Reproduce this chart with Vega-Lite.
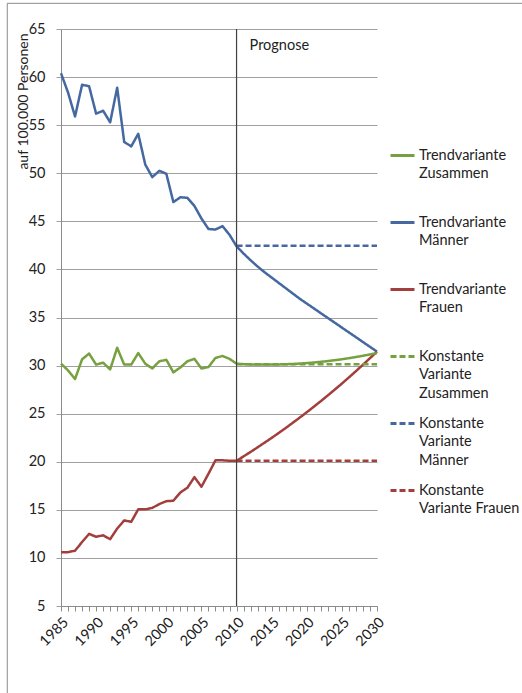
{
  "$schema": "https://vega.github.io/schema/vega-lite/v6.json",
  "width": 316,
  "height": 577,
  "autosize": {"type": "none"},
  "padding": {"left": 61, "top": 29, "right": 145, "bottom": 87},
  "background": "white",
  "config": {
    "font": "Lato",
    "view": {"stroke": null},
    "style": {"guide-label": {"lineHeight": 18.5}}
  },
  "data": {
    "values": [
      {"year": 1985, "series": "Trendvariante Männer", "value": 60.4},
      {"year": 1986, "series": "Trendvariante Männer", "value": 58.4},
      {"year": 1987, "series": "Trendvariante Männer", "value": 55.9},
      {"year": 1988, "series": "Trendvariante Männer", "value": 59.2},
      {"year": 1989, "series": "Trendvariante Männer", "value": 59.05},
      {"year": 1990, "series": "Trendvariante Männer", "value": 56.2},
      {"year": 1991, "series": "Trendvariante Männer", "value": 56.5},
      {"year": 1992, "series": "Trendvariante Männer", "value": 55.3},
      {"year": 1993, "series": "Trendvariante Männer", "value": 58.9},
      {"year": 1994, "series": "Trendvariante Männer", "value": 53.25},
      {"year": 1995, "series": "Trendvariante Männer", "value": 52.8},
      {"year": 1996, "series": "Trendvariante Männer", "value": 54.1},
      {"year": 1997, "series": "Trendvariante Männer", "value": 50.9},
      {"year": 1998, "series": "Trendvariante Männer", "value": 49.6},
      {"year": 1999, "series": "Trendvariante Männer", "value": 50.25},
      {"year": 2000, "series": "Trendvariante Männer", "value": 49.95},
      {"year": 2001, "series": "Trendvariante Männer", "value": 47.0},
      {"year": 2002, "series": "Trendvariante Männer", "value": 47.5},
      {"year": 2003, "series": "Trendvariante Männer", "value": 47.45},
      {"year": 2004, "series": "Trendvariante Männer", "value": 46.6},
      {"year": 2005, "series": "Trendvariante Männer", "value": 45.3},
      {"year": 2006, "series": "Trendvariante Männer", "value": 44.2},
      {"year": 2007, "series": "Trendvariante Männer", "value": 44.15},
      {"year": 2008, "series": "Trendvariante Männer", "value": 44.5},
      {"year": 2009, "series": "Trendvariante Männer", "value": 43.6},
      {"year": 2010, "series": "Trendvariante Männer", "value": 42.4},
      {"year": 2011, "series": "Trendvariante Männer", "value": 41.65},
      {"year": 2012, "series": "Trendvariante Männer", "value": 40.95},
      {"year": 2013, "series": "Trendvariante Männer", "value": 40.3},
      {"year": 2014, "series": "Trendvariante Männer", "value": 39.7},
      {"year": 2015, "series": "Trendvariante Männer", "value": 39.15},
      {"year": 2016, "series": "Trendvariante Männer", "value": 38.6},
      {"year": 2017, "series": "Trendvariante Männer", "value": 38.05},
      {"year": 2018, "series": "Trendvariante Männer", "value": 37.5},
      {"year": 2019, "series": "Trendvariante Männer", "value": 36.95},
      {"year": 2020, "series": "Trendvariante Männer", "value": 36.45},
      {"year": 2021, "series": "Trendvariante Männer", "value": 35.95},
      {"year": 2022, "series": "Trendvariante Männer", "value": 35.45},
      {"year": 2023, "series": "Trendvariante Männer", "value": 34.95},
      {"year": 2024, "series": "Trendvariante Männer", "value": 34.45},
      {"year": 2025, "series": "Trendvariante Männer", "value": 33.95},
      {"year": 2026, "series": "Trendvariante Männer", "value": 33.45},
      {"year": 2027, "series": "Trendvariante Männer", "value": 32.95},
      {"year": 2028, "series": "Trendvariante Männer", "value": 32.45},
      {"year": 2029, "series": "Trendvariante Männer", "value": 31.95},
      {"year": 2030, "series": "Trendvariante Männer", "value": 31.45},

      {"year": 1985, "series": "Trendvariante Frauen", "value": 10.6},
      {"year": 1986, "series": "Trendvariante Frauen", "value": 10.6},
      {"year": 1987, "series": "Trendvariante Frauen", "value": 10.75},
      {"year": 1988, "series": "Trendvariante Frauen", "value": 11.65},
      {"year": 1989, "series": "Trendvariante Frauen", "value": 12.5},
      {"year": 1990, "series": "Trendvariante Frauen", "value": 12.2},
      {"year": 1991, "series": "Trendvariante Frauen", "value": 12.35},
      {"year": 1992, "series": "Trendvariante Frauen", "value": 11.95},
      {"year": 1993, "series": "Trendvariante Frauen", "value": 13.05},
      {"year": 1994, "series": "Trendvariante Frauen", "value": 13.9},
      {"year": 1995, "series": "Trendvariante Frauen", "value": 13.75},
      {"year": 1996, "series": "Trendvariante Frauen", "value": 15.05},
      {"year": 1997, "series": "Trendvariante Frauen", "value": 15.05},
      {"year": 1998, "series": "Trendvariante Frauen", "value": 15.2},
      {"year": 1999, "series": "Trendvariante Frauen", "value": 15.6},
      {"year": 2000, "series": "Trendvariante Frauen", "value": 15.9},
      {"year": 2001, "series": "Trendvariante Frauen", "value": 15.95},
      {"year": 2002, "series": "Trendvariante Frauen", "value": 16.8},
      {"year": 2003, "series": "Trendvariante Frauen", "value": 17.3},
      {"year": 2004, "series": "Trendvariante Frauen", "value": 18.4},
      {"year": 2005, "series": "Trendvariante Frauen", "value": 17.4},
      {"year": 2006, "series": "Trendvariante Frauen", "value": 18.75},
      {"year": 2007, "series": "Trendvariante Frauen", "value": 20.15},
      {"year": 2008, "series": "Trendvariante Frauen", "value": 20.15},
      {"year": 2009, "series": "Trendvariante Frauen", "value": 20.1},
      {"year": 2010, "series": "Trendvariante Frauen", "value": 20.1},
      {"year": 2011, "series": "Trendvariante Frauen", "value": 20.56},
      {"year": 2012, "series": "Trendvariante Frauen", "value": 21.02},
      {"year": 2013, "series": "Trendvariante Frauen", "value": 21.5},
      {"year": 2014, "series": "Trendvariante Frauen", "value": 21.99},
      {"year": 2015, "series": "Trendvariante Frauen", "value": 22.48},
      {"year": 2016, "series": "Trendvariante Frauen", "value": 22.99},
      {"year": 2017, "series": "Trendvariante Frauen", "value": 23.51},
      {"year": 2018, "series": "Trendvariante Frauen", "value": 24.05},
      {"year": 2019, "series": "Trendvariante Frauen", "value": 24.59},
      {"year": 2020, "series": "Trendvariante Frauen", "value": 25.15},
      {"year": 2021, "series": "Trendvariante Frauen", "value": 25.72},
      {"year": 2022, "series": "Trendvariante Frauen", "value": 26.3},
      {"year": 2023, "series": "Trendvariante Frauen", "value": 26.9},
      {"year": 2024, "series": "Trendvariante Frauen", "value": 27.51},
      {"year": 2025, "series": "Trendvariante Frauen", "value": 28.13},
      {"year": 2026, "series": "Trendvariante Frauen", "value": 28.77},
      {"year": 2027, "series": "Trendvariante Frauen", "value": 29.42},
      {"year": 2028, "series": "Trendvariante Frauen", "value": 30.09},
      {"year": 2029, "series": "Trendvariante Frauen", "value": 30.77},
      {"year": 2030, "series": "Trendvariante Frauen", "value": 31.45},

      {"year": 1985, "series": "Trendvariante Zusammen", "value": 30.2},
      {"year": 1986, "series": "Trendvariante Zusammen", "value": 29.5},
      {"year": 1987, "series": "Trendvariante Zusammen", "value": 28.6},
      {"year": 1988, "series": "Trendvariante Zusammen", "value": 30.65},
      {"year": 1989, "series": "Trendvariante Zusammen", "value": 31.25},
      {"year": 1990, "series": "Trendvariante Zusammen", "value": 30.1},
      {"year": 1991, "series": "Trendvariante Zusammen", "value": 30.3},
      {"year": 1992, "series": "Trendvariante Zusammen", "value": 29.6},
      {"year": 1993, "series": "Trendvariante Zusammen", "value": 31.85},
      {"year": 1994, "series": "Trendvariante Zusammen", "value": 30.1},
      {"year": 1995, "series": "Trendvariante Zusammen", "value": 30.1},
      {"year": 1996, "series": "Trendvariante Zusammen", "value": 31.3},
      {"year": 1997, "series": "Trendvariante Zusammen", "value": 30.2},
      {"year": 1998, "series": "Trendvariante Zusammen", "value": 29.7},
      {"year": 1999, "series": "Trendvariante Zusammen", "value": 30.45},
      {"year": 2000, "series": "Trendvariante Zusammen", "value": 30.6},
      {"year": 2001, "series": "Trendvariante Zusammen", "value": 29.3},
      {"year": 2002, "series": "Trendvariante Zusammen", "value": 29.8},
      {"year": 2003, "series": "Trendvariante Zusammen", "value": 30.45},
      {"year": 2004, "series": "Trendvariante Zusammen", "value": 30.7},
      {"year": 2005, "series": "Trendvariante Zusammen", "value": 29.7},
      {"year": 2006, "series": "Trendvariante Zusammen", "value": 29.85},
      {"year": 2007, "series": "Trendvariante Zusammen", "value": 30.8},
      {"year": 2008, "series": "Trendvariante Zusammen", "value": 31.0},
      {"year": 2009, "series": "Trendvariante Zusammen", "value": 30.7},
      {"year": 2010, "series": "Trendvariante Zusammen", "value": 30.2},
      {"year": 2011, "series": "Trendvariante Zusammen", "value": 30.15},
      {"year": 2012, "series": "Trendvariante Zusammen", "value": 30.12},
      {"year": 2013, "series": "Trendvariante Zusammen", "value": 30.1},
      {"year": 2014, "series": "Trendvariante Zusammen", "value": 30.1},
      {"year": 2015, "series": "Trendvariante Zusammen", "value": 30.1},
      {"year": 2016, "series": "Trendvariante Zusammen", "value": 30.12},
      {"year": 2017, "series": "Trendvariante Zusammen", "value": 30.14},
      {"year": 2018, "series": "Trendvariante Zusammen", "value": 30.17},
      {"year": 2019, "series": "Trendvariante Zusammen", "value": 30.21},
      {"year": 2020, "series": "Trendvariante Zusammen", "value": 30.26},
      {"year": 2021, "series": "Trendvariante Zusammen", "value": 30.32},
      {"year": 2022, "series": "Trendvariante Zusammen", "value": 30.39},
      {"year": 2023, "series": "Trendvariante Zusammen", "value": 30.47},
      {"year": 2024, "series": "Trendvariante Zusammen", "value": 30.56},
      {"year": 2025, "series": "Trendvariante Zusammen", "value": 30.66},
      {"year": 2026, "series": "Trendvariante Zusammen", "value": 30.77},
      {"year": 2027, "series": "Trendvariante Zusammen", "value": 30.89},
      {"year": 2028, "series": "Trendvariante Zusammen", "value": 31.02},
      {"year": 2029, "series": "Trendvariante Zusammen", "value": 31.16},
      {"year": 2030, "series": "Trendvariante Zusammen", "value": 31.3},

      {"year": 2010, "series": "Konstante Variante Zusammen", "value": 30.15},
      {"year": 2030, "series": "Konstante Variante Zusammen", "value": 30.15},
      {"year": 2010, "series": "Konstante Variante Männer", "value": 42.45},
      {"year": 2030, "series": "Konstante Variante Männer", "value": 42.45},
      {"year": 2010, "series": "Konstante Variante Frauen", "value": 20.1},
      {"year": 2030, "series": "Konstante Variante Frauen", "value": 20.1}
    ]
  },
  "layer": [
    {
      "data": {"values": [{}]},
      "mark": {"type": "rule", "color": "#8c8c8c", "strokeWidth": 1, "clip": false},
      "encoding": {
        "x": {"datum": 1977.35, "type": "quantitative"},
        "y": {"datum": 67.67, "type": "quantitative"},
        "y2": {"datum": -20}
      }
    },
    {
      "data": {"values": [{}]},
      "mark": {"type": "rule", "color": "#8c8c8c", "strokeWidth": 1, "clip": false},
      "encoding": {
        "x": {"datum": 1977.35, "type": "quantitative"},
        "x2": {"datum": 2060},
        "y": {"datum": 67.67, "type": "quantitative"}
      }
    },
    {
      "mark": {"type": "line", "strokeWidth": 2.5, "strokeCap": "butt", "strokeJoin": "round"},
      "encoding": {
        "x": {
          "field": "year",
          "type": "quantitative",
          "scale": {"domain": [1985, 2030], "nice": false, "zero": false},
          "axis": {
            "title": null,
            "values": [1985,1986,1987,1988,1989,1990,1991,1992,1993,1994,1995,1996,1997,1998,1999,2000,2001,2002,2003,2004,2005,2006,2007,2008,2009,2010,2011,2012,2013,2014,2015,2016,2017,2018,2019,2020,2021,2022,2023,2024,2025,2026,2027,2028,2029,2030],
            "tickCount": 60,
            "format": "d",
            "labelExpr": "datum.value % 5 === 0 ? datum.label : ''",
            "labelOverlap": false,
            "labelAngle": -45,
            "labelFontSize": 14.5,
            "labelColor": "#222222",
            "labelPadding": 4,
            "tickSize": 5,
            "tickColor": "#8c8c8c",
            "domainColor": "#8c8c8c",
            "grid": false
          }
        },
        "y": {
          "field": "value",
          "type": "quantitative",
          "scale": {"domain": [5, 65], "nice": false, "zero": false},
          "axis": {
            "title": "auf 100.000 Personen",
            "titleFontSize": 14,
            "titleFontWeight": "normal",
            "titleColor": "#222222",
            "titleAnchor": "end",
            "titleX": -31,
            "titleY": 4,
            "values": [5,10,15,20,25,30,35,40,45,50,55,60,65],
            "tickCount": 20,
            "labelFontSize": 14.5,
            "labelColor": "#222222",
            "labelPadding": 11,
            "tickSize": 5,
            "tickColor": "#a0a0a0",
            "domainColor": "#8c8c8c",
            "grid": true,
            "gridColor": "#a0a0a0",
            "gridWidth": 1
          }
        },
        "color": {
          "field": "series",
          "type": "nominal",
          "scale": {
            "domain": ["Trendvariante Zusammen", "Trendvariante Männer", "Trendvariante Frauen", "Konstante Variante Zusammen", "Konstante Variante Männer", "Konstante Variante Frauen"],
            "range": ["#77A040", "#44689F", "#A23F3C", "#77A040", "#44689F", "#A23F3C"]
          },
          "legend": {
            "title": null,
            "orient": "none",
            "legendX": 328,
            "legendY": 113,
            "symbolType": "stroke",
            "symbolSize": 576,
            "symbolStrokeWidth": 3,
            "labelFontSize": 14.5,
            "labelColor": "#222222",
            "labelOffset": 3,
            "labelLimit": 200,
            "gridAlign": "all",
            "rowPadding": 10,
            "labelExpr": "datum.label == 'Konstante Variante Frauen' ? ['Konstante', 'Variante Frauen'] : indexof(datum.label, 'Trendvariante') == 0 ? ['Trendvariante', substring(datum.label, 14)] : ['Konstante', 'Variante', substring(datum.label, 19)]"
          }
        },
        "strokeDash": {
          "field": "series",
          "type": "nominal",
          "scale": {
            "domain": ["Trendvariante Zusammen", "Trendvariante Männer", "Trendvariante Frauen", "Konstante Variante Zusammen", "Konstante Variante Männer", "Konstante Variante Frauen"],
            "range": [[1, 0], [1, 0], [1, 0], [6, 3], [6, 3], [6, 3]]
          },
          "legend": null
        }
      }
    },
    {
      "data": {"values": [{}]},
      "mark": {"type": "rule", "color": "#404040", "strokeWidth": 1.2},
      "encoding": {"x": {"datum": 2010, "type": "quantitative"}}
    },
    {
      "data": {"values": [{}]},
      "mark": {"type": "text", "align": "left", "baseline": "middle", "dx": 13, "fontSize": 14.5, "color": "#222222"},
      "encoding": {
        "x": {"datum": 2010, "type": "quantitative"},
        "y": {"datum": 63.2, "type": "quantitative"},
        "text": {"value": "Prognose"}
      }
    }
  ]
}
